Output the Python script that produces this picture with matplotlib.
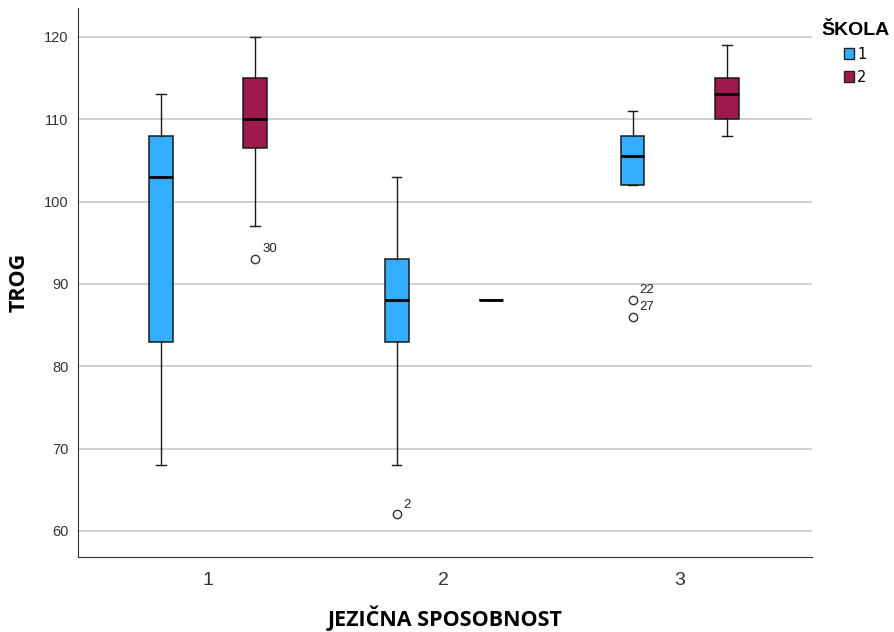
import numpy as np
import matplotlib.pyplot as plt
from matplotlib.patches import Patch

# groups on the x axis and the two schools
groups = [1, 2, 3]
schools = ['1', '2']
colors = ['#33AEFF', '#9E1A4C']

# box statistics: (whislo, q1, med, q3, whishi)
stats_s1 = [(68, 83, 103, 108, 113), (68, 83, 88, 93, 103), (102, 102, 105.5, 108, 111)]
stats_s2 = [(97, 106.5, 110, 115, 120), (88, 88, 88, 88, 88), (108, 110, 113, 115, 119)]

# outliers: group, school, value, case label
outliers = [(1, 1, 93, '30'), (2, 0, 62, '2'), (3, 0, 88, '22'), (3, 0, 86, '27')]

offset = 0.2
fig = plt.figure(figsize=(8.95, 6.32), dpi=100)
ax = fig.add_axes([0.0872, 0.1187, 0.820, 0.8686])

for s, st in enumerate([stats_s1, stats_s2]):
    bx = []
    for g, (lo, q1, med, q3, hi) in zip(groups, st):
        bx.append(dict(whislo=lo, q1=q1, med=med, q3=q3, whishi=hi, fliers=[]))
    pos = [g + (offset if s else -offset) for g in groups]
    ax.bxp(bx, positions=pos, widths=0.1, patch_artist=True, showfliers=False,
           boxprops=dict(facecolor=colors[s], edgecolor='#1a1a1a', linewidth=1.1),
           medianprops=dict(color='black', linewidth=2),
           whiskerprops=dict(color='#1a1a1a', linewidth=1.0),
           capprops=dict(color='#1a1a1a', linewidth=1.0),
           capwidths=0.04)

for g, s, v, lab in outliers:
    x = g + (offset if s else -offset)
    ax.plot(x, v, 'o', mfc='white', mec='#333333', ms=6, mew=1.0)
    ax.annotate(lab, (x, v), xytext=(5, 5), textcoords='offset points',
                fontsize=9.5, color='#222222', family='Liberation Sans')

ax.set_xlim(0.449, 3.56)
ax.set_ylim(56.84, 123.5)
ax.set_yticks([60, 70, 80, 90, 100, 110, 120])
ax.set_xticks(groups)
ax.set_xticklabels([str(g) for g in groups])
ax.yaxis.grid(True, color='#c8c8c8', linewidth=1.2)
ax.set_axisbelow(True)
ax.tick_params(length=0, colors='#333333')
ax.tick_params(axis='x', pad=11, labelsize=14)
ax.tick_params(axis='y', pad=7, labelsize=10.5)
for t in ax.get_xticklabels() + ax.get_yticklabels():
    t.set_family('Liberation Sans')
ax.spines['top'].set_visible(False)
ax.spines['right'].set_visible(False)
ax.spines['left'].set_color('#333333')
ax.spines['bottom'].set_color('#333333')

ax.set_xlabel('JEZIČNA SPOSOBNOST', fontsize=15.5, fontweight='bold', family='Open Sans', labelpad=12)
ax.set_ylabel('TROG', fontsize=15.5, fontweight='bold', family='Open Sans', labelpad=10)

handles = [Patch(facecolor=c, edgecolor='#222222', linewidth=1.0) for c in colors]
leg = fig.legend(handles, schools, title='ŠKOLA', loc='upper left', bbox_to_anchor=(0.906, 0.982),
                 frameon=False, fontsize=10.5, handlelength=0.7, handleheight=0.7,
                 handletextpad=0.2, labelspacing=0.55, borderpad=0.2,
                 title_fontproperties=dict(weight='bold', size=14, family='Liberation Sans'))

fig.savefig('out.png', dpi=100)
